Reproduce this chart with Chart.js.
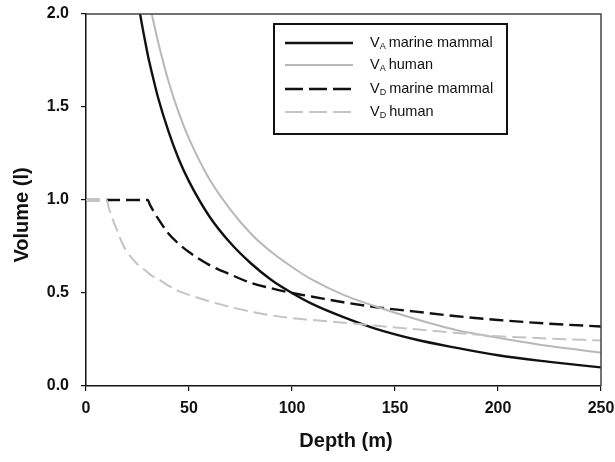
<!DOCTYPE html>
<html>
<head>
<meta charset="utf-8">
<script src="https://cdn.jsdelivr.net/npm/chart.js@4/dist/chart.umd.min.js"></script>
<style>
  html, body { margin: 0; padding: 0; background: #ffffff; }
  #wrap { width: 615px; height: 462px; }
</style>
</head>
<body>
<div id="wrap"><canvas id="c" width="615" height="462"></canvas></div>
<script>
// ---- data ----
const depths = [0, 5, 10, 11, 12.5, 15, 17.5, 20, 25, 30, 31, 32.5, 35, 40, 45, 50, 60, 70, 80, 90, 100, 110, 125, 140, 160, 180, 200, 225, 250];

const vaMarine = [null, null, null, null, null, null, null, 2.50, 2.085, 1.78, 1.73, 1.66, 1.55, 1.37, 1.22, 1.10, 0.91, 0.77, 0.66, 0.57, 0.50, 0.44, 0.37, 0.31, 0.25, 0.205, 0.165, 0.13, 0.10];
const vaHuman  = [null, null, null, null, null, null, null, null, 2.46, 2.11, 2.05, 1.97, 1.85, 1.64, 1.47, 1.33, 1.11, 0.95, 0.82, 0.72, 0.64, 0.57, 0.49, 0.43, 0.36, 0.30, 0.26, 0.215, 0.18];
const vdMarine = [1.00, 1.00, 1.00, 1.00, 1.00, 1.00, 1.00, 1.00, 1.00, 1.00, 0.975, 0.945, 0.90, 0.82, 0.765, 0.72, 0.65, 0.60, 0.555, 0.525, 0.50, 0.48, 0.45, 0.425, 0.40, 0.375, 0.355, 0.335, 0.32];
const vdHuman  = [1.00, 1.00, 1.00, 0.96, 0.91, 0.84, 0.77, 0.72, 0.655, 0.61, 0.60, 0.59, 0.575, 0.54, 0.51, 0.49, 0.455, 0.425, 0.40, 0.38, 0.365, 0.355, 0.34, 0.325, 0.305, 0.285, 0.268, 0.255, 0.245];

const legendSub  = ['A', 'A', 'D', 'D'];
const legendText = ['marine mammal', 'human', 'marine mammal', 'human'];

const xTicks = [0, 50, 100, 150, 200, 250];
const yTicks = [0, 0.5, 1.0, 1.5, 2.0];
const xTitle = 'Depth (m)';
const yTitle = 'Volume (l)';

// ---- build chart ----
function pts(vals) {
  const out = [];
  depths.forEach((d, i) => { if (vals[i] !== null) out.push({ x: d, y: vals[i] }); });
  return out;
}

const styles = [
  { color: '#111111', width: 2.4, dash: [], order: 1 },
  { color: '#b8b8b8', width: 2.0, dash: [], order: 2 },
  { color: '#111111', width: 2.4, dash: [14, 6], order: 3 },
  { color: '#c4c4c4', width: 2.0, dash: [14, 6], order: 0 }
];
const seriesVals = [vaMarine, vaHuman, vdMarine, vdHuman];

const datasets = seriesVals.map((v, i) => ({
  label: 'V' + legendSub[i] + ' ' + legendText[i],
  data: pts(v),
  borderColor: styles[i].color,
  borderWidth: styles[i].width,
  borderDash: styles[i].dash,
  pointRadius: 0,
  fill: false,
  cubicInterpolationMode: 'monotone',
  order: styles[i].order
}));

const FONT = '"Liberation Sans", Arial, Helvetica, sans-serif';

const framePlugin = {
  id: 'frameAndLegend',
  afterDatasetsDraw(chart) {
    const ctx = chart.ctx;
    const a = chart.chartArea;
    ctx.save();
    // frame top & right
    ctx.strokeStyle = '#444444';
    ctx.lineWidth = 1.5;
    ctx.beginPath();
    ctx.moveTo(a.left, a.top);
    ctx.lineTo(a.right, a.top);
    ctx.lineTo(a.right, a.bottom);
    ctx.stroke();

    // legend box
    const bx = 274, by = 24, bw = 233, bh = 110;
    ctx.fillStyle = '#ffffff';
    ctx.fillRect(bx, by, bw, bh);
    ctx.strokeStyle = '#111111';
    ctx.lineWidth = 2;
    ctx.strokeRect(bx, by, bw, bh);

    const rows = [43, 65, 89, 112];
    chart.data.datasets.forEach((ds, i) => {
      const y = rows[i];
      ctx.strokeStyle = ds.borderColor;
      ctx.lineWidth = ds.borderWidth;
      ctx.setLineDash(ds.borderDash.length ? [18, 6] : []);
      ctx.beginPath();
      ctx.moveTo(285, y);
      ctx.lineTo(353, y);
      ctx.stroke();
      ctx.setLineDash([]);

      ctx.fillStyle = '#111111';
      ctx.textBaseline = 'middle';
      ctx.textAlign = 'left';
      ctx.font = '14.5px ' + FONT;
      let x = 370;
      ctx.fillText('V', x, y);
      x += ctx.measureText('V').width;
      ctx.font = '9px ' + FONT;
      ctx.fillText(legendSub[i], x, y + 4);
      x += ctx.measureText(legendSub[i]).width + 3;
      ctx.font = '14.5px ' + FONT;
      ctx.fillText(legendText[i], x, y);
    });

    // axis titles
    ctx.fillStyle = '#111111';
    ctx.font = 'bold 20px ' + FONT;
    ctx.textAlign = 'center';
    ctx.textBaseline = 'middle';
    ctx.fillText(xTitle, 346, 441);
    ctx.save();
    ctx.translate(22, 215);
    ctx.rotate(-Math.PI / 2);
    ctx.fillText(yTitle, 0, 0);
    ctx.restore();
    ctx.restore();
  }
};

new Chart(document.getElementById('c'), {
  type: 'line',
  data: { datasets },
  options: {
    responsive: false,
    animation: false,
    devicePixelRatio: 1,
    layout: { padding: { left: 0, right: 14, top: 14, bottom: 0 } },
    plugins: { legend: { display: false }, tooltip: { enabled: false }, title: { display: false } },
    scales: {
      x: {
        type: 'linear',
        min: 0, max: 250,
        afterFit(s) { s.height = 76; s.paddingLeft = 0; s.paddingRight = 0; },
        afterBuildTicks(s) { s.ticks = xTicks.map(v => ({ value: v })); },
        ticks: { color: '#111111', font: { family: FONT, size: 16, weight: 'bold' }, padding: 8, maxRotation: 0,
                 callback: v => String(v) },
        grid: { display: true, drawOnChartArea: false, drawTicks: true, tickLength: 5, color: '#111111', lineWidth: 1.2 },
        border: { display: true, color: '#111111', width: 1.5 }
      },
      y: {
        type: 'linear',
        min: 0, max: 2,
        afterFit(s) { s.width = 86; s.paddingTop = 0; s.paddingBottom = 0; },
        afterBuildTicks(s) { s.ticks = yTicks.map(v => ({ value: v })); },
        ticks: { color: '#111111', font: { family: FONT, size: 16, weight: 'bold' }, padding: 12,
                 callback: v => Number(v).toFixed(1) },
        grid: { display: true, drawOnChartArea: false, drawTicks: true, tickLength: 5, color: '#111111', lineWidth: 1.2 },
        border: { display: true, color: '#111111', width: 1.5 }
      }
    }
  },
  plugins: [framePlugin]
});
</script>
</body>
</html>
